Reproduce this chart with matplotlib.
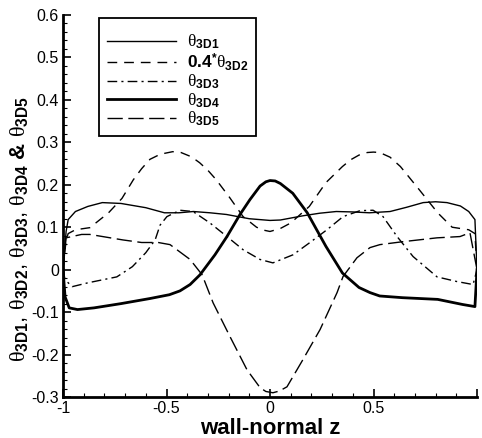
import numpy as np
import matplotlib
matplotlib.use("Agg")
import matplotlib.pyplot as plt
from matplotlib.ticker import MultipleLocator, FixedLocator

plt.rcParams['font.family'] = ['Liberation Sans', 'DejaVu Sans']
plt.rcParams['mathtext.fontset'] = 'custom'
plt.rcParams['mathtext.rm'] = 'Liberation Serif'
plt.rcParams['mathtext.it'] = 'Liberation Serif:italic'
plt.rcParams['mathtext.bf'] = 'Liberation Sans:bold'

# ---- data ----
z1 = [-1.0, -0.985, -0.975, -0.94, -0.88, -0.81, -0.72, -0.60, -0.51, -0.44, -0.37, -0.29,
      -0.21, -0.10, 0.0, 0.05, 0.16, 0.24, 0.32, 0.40, 0.48, 0.58, 0.66, 0.74, 0.80, 0.855,
      0.92, 0.96, 0.99, 1.0]
t1 = [0.0, 0.09, 0.118, 0.137, 0.149, 0.158, 0.156, 0.146, 0.134, 0.134, 0.137, 0.134,
      0.130, 0.120, 0.116, 0.117, 0.127, 0.133, 0.137, 0.136, 0.134, 0.137, 0.147, 0.158, 0.160,
      0.158, 0.150, 0.137, 0.118, 0.0]

z2 = [-1.0, -0.985, -0.975, -0.94, -0.87, -0.78, -0.715, -0.66, -0.62, -0.58, -0.53, -0.47,
      -0.43, -0.38, -0.34, -0.30, -0.26, -0.195, -0.13, -0.065, -0.03, 0.0, 0.05, 0.1, 0.19,
      0.27, 0.35, 0.39, 0.43, 0.47, 0.5, 0.53, 0.58, 0.63, 0.72, 0.81, 0.88, 0.96, 0.99, 1.0]
t2 = [0.0, 0.07, 0.085, 0.094, 0.099, 0.134, 0.168, 0.212, 0.238, 0.26, 0.272, 0.278,
      0.276, 0.266, 0.252, 0.234, 0.212, 0.17, 0.125, 0.10, 0.093, 0.09, 0.097, 0.11, 0.149,
      0.205, 0.243, 0.259, 0.27, 0.276, 0.277, 0.276, 0.265, 0.243, 0.189, 0.134, 0.10,
      0.094, 0.085, 0.0]

z3 = [-1.0, -0.99, -0.955, -0.88, -0.74, -0.665, -0.60, -0.555, -0.531, -0.498, -0.435,
      -0.372, -0.29, -0.208, -0.13, -0.048, 0.014, 0.111, 0.193, 0.275, 0.353, 0.435,
      0.498, 0.546, 0.614, 0.691, 0.807, 0.903, 0.981, 1.0]
t3 = [0.0, -0.024, -0.04, -0.031, -0.017, 0.007, 0.04, 0.07, 0.105, 0.125, 0.14,
      0.137, 0.11, 0.078, 0.047, 0.024, 0.016, 0.035, 0.064, 0.094, 0.125, 0.139,
      0.14, 0.125, 0.078, 0.031, -0.017, -0.028, -0.035, 0.0]

z4 = [-1.0, -0.99, -0.97, -0.93, -0.85, -0.72, -0.58, -0.486, -0.435, -0.386, -0.338,
      -0.266, -0.208, -0.145, -0.097, -0.048, -0.02, 0.0, 0.025, 0.05, 0.11, 0.18, 0.27,
      0.35, 0.43, 0.483, 0.53, 0.64, 0.81, 0.93, 0.99, 1.0]
t4 = [0.0, -0.064, -0.09, -0.094, -0.09, -0.08, -0.068, -0.059, -0.05, -0.035, -0.012,
      0.035, 0.078, 0.13, 0.165, 0.197, 0.207, 0.21, 0.209, 0.203, 0.18, 0.134, 0.055,
      -0.008, -0.042, -0.054, -0.062, -0.066, -0.07, -0.082, -0.087, 0.0]

z5 = [-1.0, -0.985, -0.91, -0.87, -0.71, -0.62, -0.54, -0.483, -0.386, -0.328, -0.275,
      -0.193, -0.111, -0.048, -0.02, 0.014, 0.045, 0.082, 0.159, 0.242, 0.324, 0.353, 0.420,
      0.483, 0.531, 0.643, 0.807, 0.918, 0.966, 1.0]
t5 = [0.0, 0.075, 0.083, 0.083, 0.07, 0.064, 0.064, 0.059, 0.024, -0.012, -0.078,
      -0.158, -0.236, -0.278, -0.287, -0.29, -0.286, -0.276, -0.212, -0.141, -0.054, -0.016,
      0.028, 0.052, 0.059, 0.066, 0.075, 0.078, 0.087, 0.0]

labels = [r'$\mathrm{\theta}_{\mathbf{3D1}}$',
          r'$\mathbf{0.4}$' + r'$^{\mathbf{*}}$' + r'$\mathrm{\theta}_{\mathbf{3D2}}$',
          r'$\mathrm{\theta}_{\mathbf{3D3}}$',
          r'$\mathrm{\theta}_{\mathbf{3D4}}$',
          r'$\mathrm{\theta}_{\mathbf{3D5}}$']

fig = plt.figure(figsize=(4.82, 4.38), dpi=100)
ax = fig.add_axes([63/482, 41/438, 414/482, 382/438])

ax.plot(z1, t1, color='black', lw=1.0, ls='-', label=labels[0])
ax.plot(z2, t2, color='black', lw=1.0, ls=(0, (7, 5)), label=labels[1])
ax.plot(z3, t3, color='black', lw=1.0, ls=(0, (7, 3, 1.5, 3)), label=labels[2])
ax.plot(z4, t4, color='black', lw=2.0, ls='-', label=labels[3])
ax.plot(z5, t5, color='black', lw=1.0, ls=(0, (11, 4)), label=labels[4])

ax.set_xlim(-1, 1)
ax.set_ylim(-0.3, 0.6)

for s in ['top', 'right']:
    ax.spines[s].set_visible(False)
for s in ['left', 'bottom']:
    ax.spines[s].set_linewidth(2.0)

ax.xaxis.set_major_locator(FixedLocator([-1, -0.5, 0, 0.5, 1]))
ax.set_xticklabels(['-1', '-0.5', '0', '0.5', ''])
ax.xaxis.set_minor_locator(MultipleLocator(0.1))
yt = [-0.3, -0.2, -0.1, 0, 0.1, 0.2, 0.3, 0.4, 0.5, 0.6]
ax.yaxis.set_major_locator(FixedLocator(yt))
ax.set_yticklabels(['-0.3', '-0.2', '-0.1', '0', '0.1', '0.2', '0.3', '0.4', '0.5', '0.6'])
ax.yaxis.set_minor_locator(MultipleLocator(0.02))
ax.tick_params(which='major', direction='in', length=6, width=1.2, labelsize=11.5)
ax.tick_params(axis='x', which='major', pad=3)
ax.tick_params(axis='y', which='major', pad=3)
ax.tick_params(which='minor', direction='in', length=3, width=0.8)

ax.set_xlabel('wall-normal z', fontsize=16, fontweight='bold', labelpad=1)
ax.set_ylabel(r'$\mathrm{\theta}_{\mathbf{3D1}}$, $\mathrm{\theta}_{\mathbf{3D2}}$, '
              r'$\mathrm{\theta}_{\mathbf{3D3}}$, $\mathrm{\theta}_{\mathbf{3D4}}$ '
              r'$\mathbf{&}$ $\mathrm{\theta}_{\mathbf{3D5}}$', fontsize=16)
ax.yaxis.set_label_coords(-0.08, 0.44)

leg = ax.legend(loc='upper left', bbox_to_anchor=(36/414, 379/382), borderaxespad=0,
                fancybox=False, edgecolor='black', framealpha=1, fontsize=12.5,
                handlelength=4.0, handletextpad=0.6, labelspacing=0.0,
                borderpad=0.45, title=' ', title_fontsize=6)
leg.get_frame().set_linewidth(1.3)

fig.savefig('out.png', dpi=100)
